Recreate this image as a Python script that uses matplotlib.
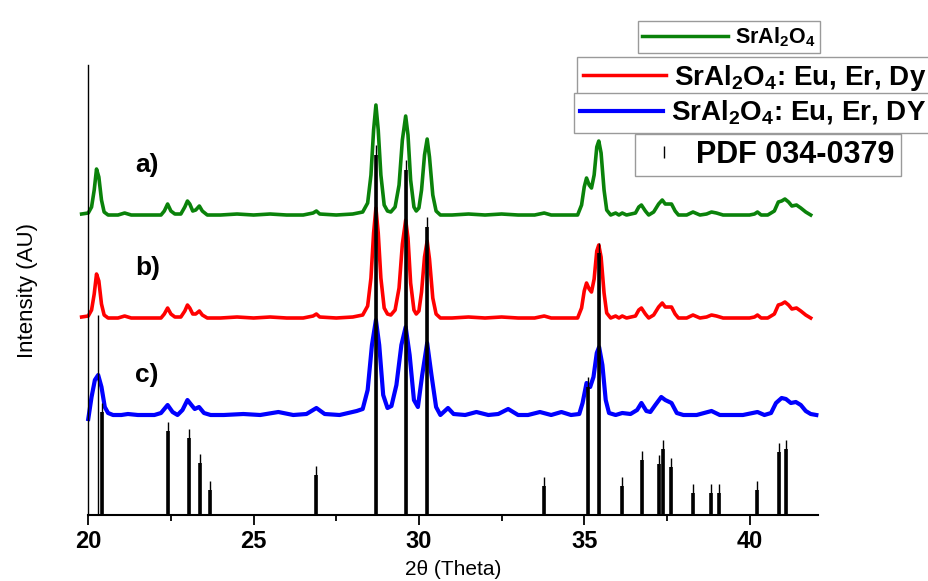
import matplotlib
matplotlib.use('Agg')
import matplotlib.pyplot as plt
from matplotlib import font_manager
from matplotlib.lines import Line2D

matplotlib.rcParams.update({'font.family': 'Liberation Sans',
                            'mathtext.fontset': 'custom',
                            'mathtext.rm': 'Liberation Sans',
                            'mathtext.bf': 'Liberation Sans:bold'})
names = {f.name for f in font_manager.fontManager.ttflist}
narrow = 'Liberation Sans Narrow' if 'Liberation Sans Narrow' in names else 'Liberation Sans'

# ---- data (2theta, intensity above own baseline) ----
x_a = [19.80, 20.00, 20.10, 20.18, 20.25, 20.32, 20.40, 20.48, 20.60, 20.90, 21.10, 21.30, 21.80,
       22.20, 22.30, 22.40, 22.50, 22.62, 22.80, 22.92, 23.00, 23.07, 23.16, 23.25, 23.36, 23.45,
       23.60, 24.00, 24.50, 25.00, 25.50, 26.00, 26.50, 26.80, 26.90, 27.00, 27.50, 28.00, 28.30,
       28.45, 28.55, 28.63, 28.70, 28.77, 28.85, 28.95, 29.05, 29.15, 29.28, 29.40, 29.50, 29.60,
       29.67, 29.75, 29.85, 29.92, 30.00, 30.08, 30.17, 30.25, 30.32, 30.42, 30.52, 30.65, 31.00,
       31.50, 32.00, 32.50, 33.00, 33.50, 33.79, 34.00, 34.50, 34.80, 34.92, 35.00, 35.07, 35.15,
       35.22, 35.30, 35.38, 35.44, 35.51, 35.60, 35.68, 35.80, 35.95, 36.05, 36.15, 36.28, 36.55,
       36.65, 36.73, 36.85, 36.95, 37.10, 37.25, 37.36, 37.45, 37.55, 37.64, 37.75, 37.85, 38.10,
       38.29, 38.50, 38.70, 38.85, 39.00, 39.20, 39.60, 40.00, 40.15, 40.24, 40.35, 40.55, 40.75,
       40.87, 40.97, 41.07, 41.18, 41.28, 41.42, 41.55, 41.70, 41.85]
y_a = [1, 2, 8, 25, 46, 38, 15, 3, 0, 0, 2, 0, 0,
       0, 4, 11, 4, 1, 1, 8, 14, 11, 4, 5, 9, 4,
       0, 0, 1, 0, 1, 0, 0, 2, 4, 1, 0, 1, 3,
       12, 40, 85, 110, 85, 40, 10, 4, 3, 8, 30, 75, 99,
       80, 35, 8, 4, 7, 25, 60, 76, 58, 20, 4, 0, 0,
       1, 0, 1, 0, 0, 2, 0, 0, 0, 10, 28, 37, 30,
       27, 40, 68, 74, 62, 25, 5, 0, 2, 0, 2, 0, 2,
       8, 10, 4, 0, 3, 11, 15, 11, 11, 11, 4, 0, 0,
       3, 0, 1, 3, 2, 0, 0, 0, 1, 3, 0, 0, 4,
       13, 14, 16, 13, 9, 10, 7, 3, 0]

x_b = list(x_a)
y_b = [1, 2, 8, 24, 44, 37, 14, 3, 0, 0, 2, 0, 0,
       0, 4, 10, 4, 1, 1, 7, 13, 10, 4, 4, 7, 3,
       0, 0, 1, 0, 1, 0, 0, 2, 4, 1, 0, 1, 3,
       12, 40, 85, 110, 85, 40, 10, 4, 3, 8, 30, 74, 98,
       80, 35, 8, 4, 7, 26, 61, 77, 59, 20, 4, 0, 0,
       1, 0, 1, 0, 0, 2, 0, 0, 0, 10, 27, 35, 29,
       26, 39, 67, 73, 61, 25, 5, 0, 2, 0, 2, 0, 2,
       8, 10, 4, 0, 3, 11, 15, 11, 11, 11, 4, 0, 0,
       3, 0, 1, 3, 2, 0, 0, 0, 1, 3, 0, 0, 4,
       13, 14, 16, 13, 9, 10, 7, 3, 0]

x_c = [20.00, 20.10, 20.20, 20.30, 20.40, 20.50, 20.60, 20.75, 21.00, 21.20, 21.50, 22.00, 22.20,
       22.40, 22.55, 22.70, 22.85, 23.00, 23.12, 23.22, 23.35, 23.50, 23.70, 24.10, 24.69, 25.20,
       25.75, 26.20, 26.60, 26.90, 27.15, 27.60, 28.12, 28.30, 28.45, 28.58, 28.70, 28.80, 28.92,
       29.05, 29.17, 29.32, 29.47, 29.60, 29.72, 29.85, 29.97, 30.10, 30.25, 30.38, 30.52, 30.65,
       30.88, 31.05, 31.40, 31.74, 32.10, 32.40, 32.70, 33.00, 33.30, 33.66, 34.00, 34.31, 34.60,
       34.85, 34.95, 35.07, 35.18, 35.28, 35.38, 35.45, 35.55, 35.65, 35.75, 35.95, 36.15, 36.40,
       36.60, 36.73, 36.88, 37.00, 37.15, 37.33, 37.45, 37.64, 37.80, 38.00, 38.40, 38.85, 39.10,
       39.80, 40.24, 40.45, 40.65, 40.80, 40.97, 41.10, 41.25, 41.40, 41.55, 41.70, 41.85, 42.02]
y_c = [-4, 18, 35, 40, 28, 8, 2, 0, 0, 1, 0, 0, 2,
       10, 3, 0, 5, 15, 10, 6, 8, 2, 0, 0, 1, 0,
       3, 0, 1, 7, 1, 0, 4, 6, 25, 70, 95, 70, 20,
       7, 9, 30, 70, 88, 60, 15, 8, 40, 72, 40, 8, 0,
       7, 1, 0, 3, 0, 1, 6, 0, 0, 3, 0, 3, 0,
       1, 12, 32, 28, 38, 62, 68, 50, 15, 2, 0, 2, 1,
       5, 12, 4, 3, 10, 18, 15, 12, 2, 0, 0, 4, 0,
       0, 3, 0, 2, 12, 17, 16, 12, 13, 10, 4, 1, 0]

offset_a, offset_b, offset_c = 300, 197, 100

# PDF 034-0379 reference lines
pdf_pos   = [20.30, 20.41, 22.42, 23.04, 23.38, 23.69, 26.89, 28.70, 29.60, 30.25, 33.79, 35.12,
             35.44, 36.15, 36.76, 37.27, 37.38, 37.63, 38.29, 38.82, 39.09, 40.24, 40.88, 41.09]
pdf_int   = [200, 112, 93, 86, 61, 34, 49, 370, 355, 298, 38, 138,
             272, 38, 64, 60, 75, 57, 31, 31, 31, 34, 72, 75]
pdf_bar   = [0, 103, 84, 77, 52, 25, 40, 360, 345, 288, 29, 128,
             262, 29, 55, 51, 66, 48, 22, 22, 22, 25, 63, 66]

# ---- figure ----
fig = plt.figure(figsize=(9.29, 5.81), dpi=100)
ax = fig.add_axes([0.095, 0.1136, 0.7855, 0.7745])

ax.plot(x_a, [v + offset_a for v in y_a], color='#0a820a', lw=2.6, clip_on=False, zorder=2)
ax.plot(x_b, [v + offset_b for v in y_b], color='#ff0000', lw=2.6, clip_on=False, zorder=2)
ax.plot(x_c, [v + offset_c for v in y_c], color='#0000ff', lw=3.0, clip_on=False, zorder=2)

ax.vlines(pdf_pos, 0, pdf_int, color='k', lw=1.0, zorder=3)
ax.vlines(pdf_pos, 0, pdf_bar, color='k', lw=2.6, zorder=3)

ax.set_xlim(20, 42.07)
ax.set_ylim(0, 450)
ax.set_yticks([])
ax.set_xticks([20, 25, 30, 35, 40])
ax.set_xticks([22.5, 27.5, 32.5, 37.5], minor=True)
ax.tick_params(axis='x', which='major', direction='out', length=7, width=1.3, pad=4)
ax.tick_params(axis='x', which='minor', direction='out', length=4, width=1.3)
for lab in ax.get_xticklabels():
    lab.set_fontweight('bold')
    lab.set_fontsize(17)
for s in ['top', 'right']:
    ax.spines[s].set_visible(False)
ax.spines['left'].set_linewidth(1.0)
ax.spines['bottom'].set_linewidth(1.5)

ax.set_xlabel('2θ (Theta)', fontsize=15, family=narrow, labelpad=5)
ax.set_ylabel('Intensity (AU)', fontsize=16, family=narrow, labelpad=36)

for lbl, yy in [('a)', 350), ('b)', 247), ('c)', 140)]:
    ax.text(21.42, yy, lbl, fontsize=19, fontweight='bold', va='center', ha='left')

# ---- separate legend boxes ----
def box(handle, text, x, y, fs, hl):
    leg = fig.legend([handle], [text], loc='upper left', bbox_to_anchor=(x / 929, 1 - y / 581),
                     frameon=True, fancybox=False, edgecolor='#9a9a9a', framealpha=1,
                     borderaxespad=0, borderpad=0.2, handlelength=hl, handletextpad=0.3,
                     prop=dict(family='Liberation Sans', weight='bold', size=fs))
    leg.get_frame().set_linewidth(1.0)

box(Line2D([], [], color='#0a820a', lw=2.5), r'SrAl$_\mathbf{2}$O$_\mathbf{4}$', 638, 21, 15.5, 4.0)
box(Line2D([], [], color='#ff0000', lw=2.5), r'SrAl$_\mathbf{2}$O$_\mathbf{4}$: Eu, Er, Dy', 577, 57, 20, 3.0)
box(Line2D([], [], color='#0000ff', lw=3.0), r'SrAl$_\mathbf{2}$O$_\mathbf{4}$: Eu, Er, DY', 574, 93, 20, 3.0)
box(Line2D([], [], ls='none', marker='|', color='k', ms=9, mew=1.0), 'PDF 034-0379', 635, 134, 22, 1.5)

fig.savefig('out.png', dpi=100)
